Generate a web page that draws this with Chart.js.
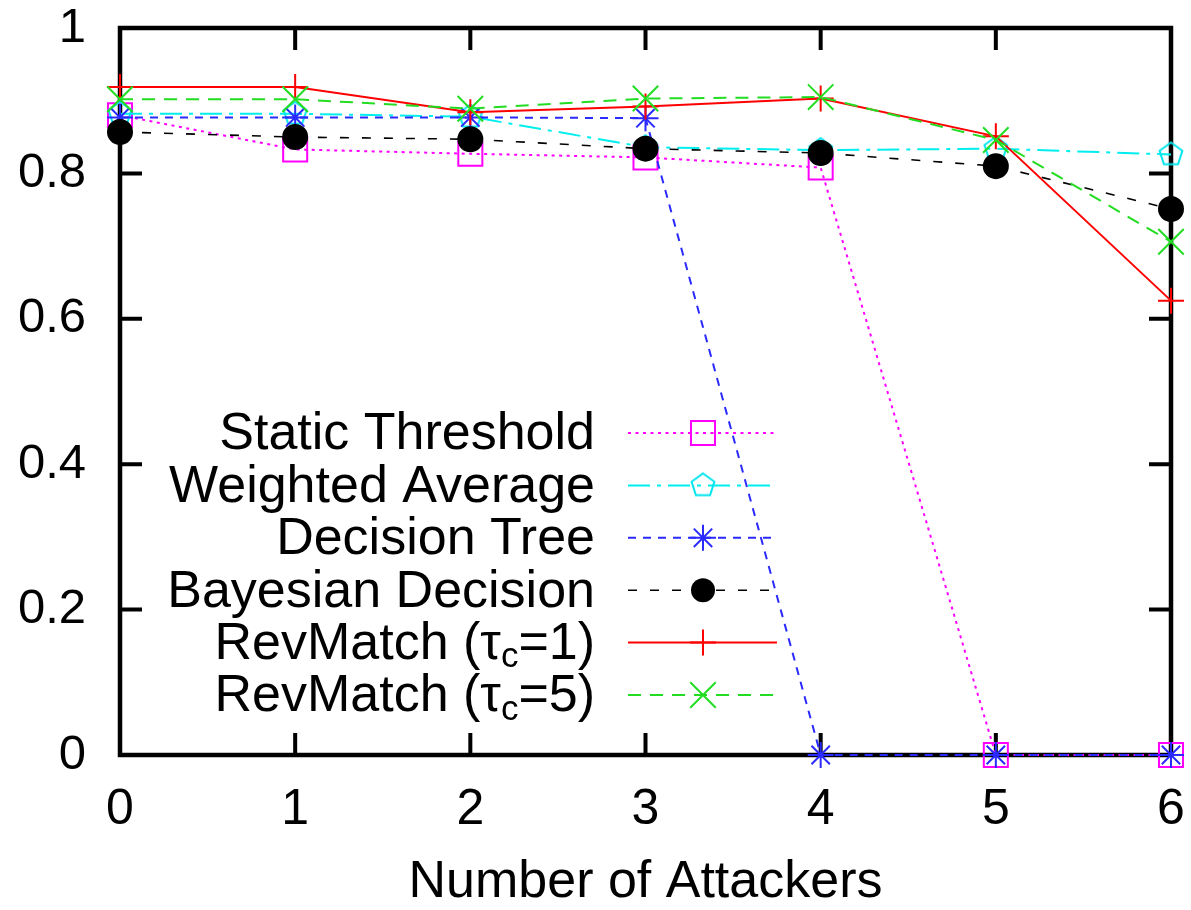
<!DOCTYPE html>
<html>
<head>
<meta charset="utf-8">
<script src="https://cdn.jsdelivr.net/npm/chart.js@4"></script>
<style>
  html, body { margin: 0; padding: 0; background: #fff; }
  #chart { display: block; }
</style>
</head>
<body>
<canvas id="chart" width="1191" height="910"></canvas>
<script>
// values
const attackers = [0, 1, 2, 3, 4, 5, 6];
const staticThreshold = [0.880, 0.833, 0.827, 0.822, 0.808, 0, 0];
const weightedAverage = [0.882, 0.882, 0.878, 0.836, 0.832, 0.834, 0.826];
const decisionTree = [0.877, 0.877, 0.877, 0.876, 0, 0, 0];
const bayesianDecision = [0.857, 0.850, 0.847, 0.834, 0.828, 0.810, 0.751];
const revMatch1 = [0.919, 0.919, 0.884, 0.892, 0.903, 0.851, 0.625];
const revMatch5 = [0.902, 0.902, 0.889, 0.903, 0.905, 0.846, 0.706];

const seriesNames = [
  "Static Threshold",
  "Weighted Average",
  "Decision Tree",
  "Bayesian Decision",
  "RevMatch (τ_c=1)",
  "RevMatch (τ_c=5)"
];
const xTicks = [0, 1, 2, 3, 4, 5, 6];
const yTicks = [0, 0.2, 0.4, 0.6, 0.8, 1];
const xTitle = "Number of Attackers";

const FONT = "'Liberation Sans', Arial, Helvetica, sans-serif";

// hollow pentagon marker, chart.js has no built-in one
function pentagon(color, r){
  const c = document.createElement("canvas");
  c.width = c.height = 2 * r + 4;
  const g = c.getContext("2d");
  g.strokeStyle = color;
  g.lineWidth = 2;
  g.beginPath();
  for (let i = 0; i < 5; i++) {
    const a = -Math.PI / 2 + i * 2 * Math.PI / 5;
    const px = r + 2 + r * Math.cos(a), py = r + 2 + r * Math.sin(a);
    if (i === 0) g.moveTo(px, py); else g.lineTo(px, py);
  }
  g.closePath();
  g.stroke();
  return c;
}

function pts(values){
  return attackers.map((x, i) => ({ x, y: values[i] }));
}

const styles = [
  { color: "#ff00ff", dash: [3, 4.5], width: 2, pointStyle: "rect", radius: 17, fill: "rgba(0,0,0,0)" },
  { color: "#00eeee", dash: [22, 7, 4, 7], width: 2, pointStyle: pentagon("#00e5ee", 12), radius: 12, fill: "rgba(0,0,0,0)" },
  { color: "#2a2aff", dash: [8, 7], width: 2, pointStyle: "star", radius: 13, fill: "rgba(0,0,0,0)" },
  { color: "#000000", dash: [9, 13], width: 1.6, pointStyle: "circle", radius: 12, fill: "#000000" },
  { color: "#ff0000", dash: [], width: 2, pointStyle: "cross", radius: 13, fill: "rgba(0,0,0,0)" },
  { color: "#22dd22", dash: [13, 9], width: 2, pointStyle: "crossRot", radius: 18, fill: "rgba(0,0,0,0)" }
];

const allSeries = [staticThreshold, weightedAverage, decisionTree, bayesianDecision, revMatch1, revMatch5];

const datasets = allSeries.map((vals, i) => {
  const s = styles[i];
  return {
    label: seriesNames[i],
    data: pts(vals),
    borderColor: s.color,
    backgroundColor: s.fill,
    borderDash: s.dash,
    borderWidth: s.width,
    pointStyle: s.pointStyle,
    pointRadius: s.radius,
    pointBorderColor: s.color,
    pointBackgroundColor: s.fill,
    pointBorderWidth: 2,
    tension: 0,
    fill: false,
    clip: false,
    order: allSeries.length - i // later series drawn on top, like gnuplot
  };
});

// frame with inward ticks on all four sides
const framePlugin = {
  id: "frame",
  beforeDatasetsDraw(chart){
    const { ctx, chartArea: a, scales } = chart;
    const tl = 22;
    ctx.save();
    ctx.strokeStyle = "#000";
    ctx.lineWidth = 4;
    ctx.beginPath();
    xTicks.slice(1, -1).forEach(v => {
      const x = scales.x.getPixelForValue(v);
      ctx.moveTo(x, a.bottom); ctx.lineTo(x, a.bottom - tl);
      ctx.moveTo(x, a.top); ctx.lineTo(x, a.top + tl);
    });
    yTicks.slice(1, -1).forEach(v => {
      const y = scales.y.getPixelForValue(v);
      ctx.moveTo(a.left, y); ctx.lineTo(a.left + tl, y);
      ctx.moveTo(a.right, y); ctx.lineTo(a.right - tl, y);
    });
    ctx.stroke();
    ctx.lineWidth = 4.5;
    ctx.strokeRect(a.left, a.top, a.right - a.left, a.bottom - a.top);
    ctx.restore();
  }
};

function drawMarker(ctx, s, x, y){
  ctx.save();
  ctx.strokeStyle = s.color;
  ctx.fillStyle = s.fill;
  ctx.lineWidth = 2;
  ctx.setLineDash([]);
  const r = s.radius;
  ctx.beginPath();
  if (s.pointStyle === "rect") {
    const h = r * Math.SQRT1_2;
    ctx.rect(x - h, y - h, 2 * h, 2 * h);
    ctx.stroke();
  } else if (s.pointStyle === "circle") {
    ctx.arc(x, y, r, 0, Math.PI * 2);
    ctx.fill();
  } else if (s.pointStyle === "cross") {
    ctx.moveTo(x - r, y); ctx.lineTo(x + r, y);
    ctx.moveTo(x, y - r); ctx.lineTo(x, y + r);
    ctx.stroke();
  } else if (s.pointStyle === "crossRot") {
    const h = r * Math.SQRT1_2;
    ctx.moveTo(x - h, y - h); ctx.lineTo(x + h, y + h);
    ctx.moveTo(x - h, y + h); ctx.lineTo(x + h, y - h);
    ctx.stroke();
  } else if (s.pointStyle === "star") {
    const h = r * Math.SQRT1_2;
    ctx.moveTo(x - r, y); ctx.lineTo(x + r, y);
    ctx.moveTo(x, y - r); ctx.lineTo(x, y + r);
    ctx.moveTo(x - h, y - h); ctx.lineTo(x + h, y + h);
    ctx.moveTo(x - h, y + h); ctx.lineTo(x + h, y - h);
    ctx.stroke();
  } else {
    const img = s.pointStyle;
    ctx.drawImage(img, x - img.width / 2, y - img.height / 2);
  }
  ctx.restore();
}

// gnuplot style key: right-aligned text, sample line + marker to the right
const keyPlugin = {
  id: "gnukey",
  afterDatasetsDraw(chart){
    const { ctx, chartArea: a } = chart;
    const textRight = a.left + 475;
    const lineStart = a.left + 508;
    const lineEnd = a.left + 657;
    const mark = a.left + 583;
    const top = a.top + 405;
    const step = 52.4;
    ctx.save();
    seriesNames.forEach((name, i) => {
      const y = top + i * step;
      const s = styles[i];
      // label with optional subscript
      const parts = name.split("_");
      const big = "52px " + FONT, small = "35px " + FONT;
      let segs = [{ t: parts[0], f: big, dy: 0 }];
      if (parts.length > 1) {
        segs.push({ t: parts[1][0], f: small, dy: 13 });
        segs.push({ t: parts[1].slice(1), f: big, dy: 0 });
      }
      let w = 0;
      segs.forEach(sg => { ctx.font = sg.f; sg.w = ctx.measureText(sg.t).width; w += sg.w; });
      let x = textRight - w;
      ctx.fillStyle = "#000";
      ctx.textBaseline = "middle";
      ctx.textAlign = "left";
      segs.forEach(sg => { ctx.font = sg.f; ctx.fillText(sg.t, x, y + 2 + sg.dy); x += sg.w; });
      // sample line
      ctx.strokeStyle = s.color;
      ctx.lineWidth = s.width;
      ctx.setLineDash(s.dash);
      ctx.beginPath();
      ctx.moveTo(lineStart, y); ctx.lineTo(lineEnd, y);
      ctx.stroke();
      drawMarker(ctx, s, mark, y);
    });
    ctx.restore();
  }
};

new Chart(document.getElementById("chart"), {
  type: "line",
  data: { datasets },
  options: {
    responsive: false,
    animation: false,
    layout: { padding: { top: 28, right: 19, left: 0, bottom: 0 } },
    plugins: { legend: { display: false }, tooltip: { enabled: false } },
    scales: {
      x: {
        type: "linear",
        min: 0, max: 6,
        afterBuildTicks: s => { s.ticks = xTicks.map(v => ({ value: v })); },
        afterFit: s => { s.height = 155; s.paddingLeft = 0; s.paddingRight = 0; },
        grid: { display: false, drawTicks: false },
        border: { display: false },
        ticks: { color: "#000", padding: 30, maxRotation: 0, font: { family: FONT, size: 50, lineHeight: 1 } },
        title: { display: true, text: xTitle, color: "#000", padding: { top: 0, bottom: 1 }, font: { family: FONT, size: 52, lineHeight: 1 } }
      },
      y: {
        min: 0, max: 1,
        afterBuildTicks: s => { s.ticks = yTicks.map(v => ({ value: v })); },
        afterFit: s => { s.width = 120; s.paddingTop = 0; s.paddingBottom = 0; },
        grid: { display: false, drawTicks: false },
        border: { display: false },
        ticks: {
          color: "#000", padding: 34,
          font: { family: FONT, size: 49, lineHeight: 1 },
          callback: v => String(Number(v.toFixed(1)))
        }
      }
    }
  },
  plugins: [framePlugin, keyPlugin]
});
</script>
</body>
</html>
